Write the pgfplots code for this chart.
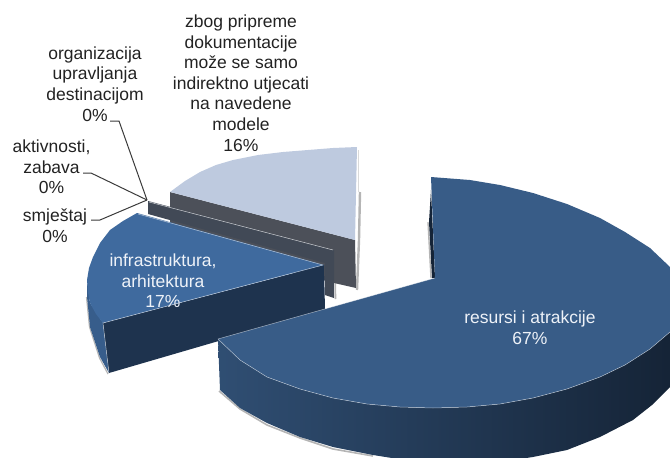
\documentclass[border=0pt]{standalone}
\usepackage{pgfplots}
\pgfplotsset{compat=1.18}
\usepackage{fontspec}
\setmainfont{Liberation Sans}
\definecolor{mainface}{HTML}{385C87}
\definecolor{infraface}{HTML}{3F6A9E}
\definecolor{infrafront}{HTML}{1E334E}
\definecolor{lightface}{HTML}{BECADF}
\definecolor{slabA}{HTML}{4C5059}
\definecolor{slabB}{HTML}{414956}
\definecolor{shadowgray}{HTML}{B5B5B5}
\definecolor{leader}{HTML}{3A3A3A}
\definecolor{txt}{HTML}{222222}
\definecolor{whitetxt}{HTML}{EEF2F8}
\begin{document}
\begin{tikzpicture}
\useasboundingbox (0,0) rectangle (670pt,458pt);
\begin{axis}[
  at={(0,0)},anchor=south west,
  scale only axis,width=670pt,height=458pt,
  xmin=0,xmax=670,ymin=0,ymax=458,y dir=reverse,
  hide axis,no markers,
  every axis plot/.append style={line join=round}
]
% shadows
\addplot[draw=shadowgray,line width=2.4pt] coordinates {(360,192)(359,240)(357,290)};
\addplot[draw=shadowgray!50,line width=1.2pt] coordinates {(358.5,150)(358.5,192)};
\addplot[draw=shadowgray,line width=1.6pt] coordinates {(219,391)(240,409)(267,425)(300,438)(333,449)(373,456)};
\addplot[draw=shadowgray,line width=1.6pt] coordinates {(335,250)(335.5,299)};
\addplot[draw=shadowgray,line width=1.4pt] coordinates {(428,222)(431,278)};
\addplot[draw=shadowgray,line width=1.2pt] coordinates {(86.5,297)(89.5,327)(99.5,358)(108,374)};
% 16% slice side
\addplot[fill=slabA,draw=none] coordinates {(170,192)(355,240)(356,288)(334,283)(170,240)(170,192)} -- cycle;
% 16% slice face
\addplot[fill=lightface,draw=none] coordinates {(170,192)(185,181)(200,172)(216,165)(233,160)(258,155)(283,152)(308,150)(333,148)(357,147)(355,240)(170,192)} -- cycle;
% 0% slab
\addplot[fill=slabB,draw=none] coordinates {(148,201)(334,250)(334,298)(325,295)(325,263)(148,214)(148,201)} -- cycle;
\addplot[draw=white,opacity=0.75,line width=0.5pt] coordinates {(149,202)(333,250)};
% infrastruktura side
\addplot[fill=infraface!88!black,draw=none] coordinates {(87,280)(90,303)(103,323)(109,373)(100,357)(90,327)(87,297)} -- cycle;
\addplot[fill=infrafront,draw=none] coordinates {(103,323)(324,265)(325,310)(109,373)(103,323)} -- cycle;
% infrastruktura face
\addplot[fill=infraface,draw=none] coordinates {(137,213)(123,221)(110,230)(100,243)(93,257)(89,268)(87,280)(88,292)(90,303)(96,314)(103,323)(324,265)(137,213)} -- cycle;
\addplot[draw=white,opacity=0.6,line width=0.5pt] coordinates {(138,214)(323,265)(103,323)(109,373)};
% main slice side
\addplot[shade,shading angle=0,left color=mainface!85!black,middle color=infrafront!95!mainface,right color=infrafront!70!black,draw=none] coordinates {(218,339)(240,360)(267,377)(300,389)(333,398)(367,404)(400,407)(433,408)(467,407)(500,404)(533,398)(567,389)(600,377)(625,365)(650,349)(670,332)(670,387)(652,405)(633,420)(600,437)(567,450)(533,457)(500,462)(417,462)(373,455)(333,447)(300,437)(267,423)(240,408)(220,390)(218,339)} -- cycle;
% main slice back sliver
\addplot[fill=infrafront!70!black,draw=none] coordinates {(431,190)(435,278)(432,278)(429,222)} -- cycle;
% main slice face
\addplot[fill=mainface,draw=none] coordinates {(431,177)(470,180)(500,185)(533,193)(567,204)(600,218)(625,232)(650,248)(670,267)(670,332)(650,349)(625,365)(600,377)(567,389)(533,398)(500,404)(467,407)(433,408)(400,407)(367,404)(333,398)(300,389)(267,377)(240,360)(218,339)(435,278)(431,177)} -- cycle;
\addplot[draw=white,opacity=0.55,line width=0.5pt] coordinates {(435,278)(218,339)(240,360)(267,377)(300,389)(333,398)(367,404)(400,407)(433,408)(467,407)(500,404)(533,398)(567,389)(600,377)(625,365)(650,349)(670,332)};
% leaders
\addplot[draw=leader,line width=1pt] coordinates {(110,121)(119,121)(147,200)};
\addplot[draw=leader,line width=1pt] coordinates {(83,173)(91,173)(147,200)};
\addplot[draw=leader,line width=1pt] coordinates {(91,220)(100,220)(147,200)};
% labels
\tikzset{lab/.style={align=center,inner sep=0pt,font=\fontsize{17.5}{20.6}\selectfont}}
\node[lab,text=txt] at (axis cs:241,83) {zbog pripreme\\dokumentacije\\može se samo\\indirektno utjecati\\na navedene\\modele\\16\%};
\node[lab,text=txt] at (axis cs:95,84) {organizacija\\upravljanja\\destinacijom\\0\%};
\node[lab,text=txt] at (axis cs:51.5,167) {aktivnosti,\\zabava\\0\%};
\node[lab,text=txt] at (axis cs:55,226) {smještaj\\0\%};
\node[lab,text=whitetxt] at (axis cs:163,281) {infrastruktura,\\arhitektura\\17\%};
\node[lab,text=whitetxt] at (axis cs:530,328) {resursi i atrakcije\\67\%};
\end{axis}
\end{tikzpicture}
\end{document}
